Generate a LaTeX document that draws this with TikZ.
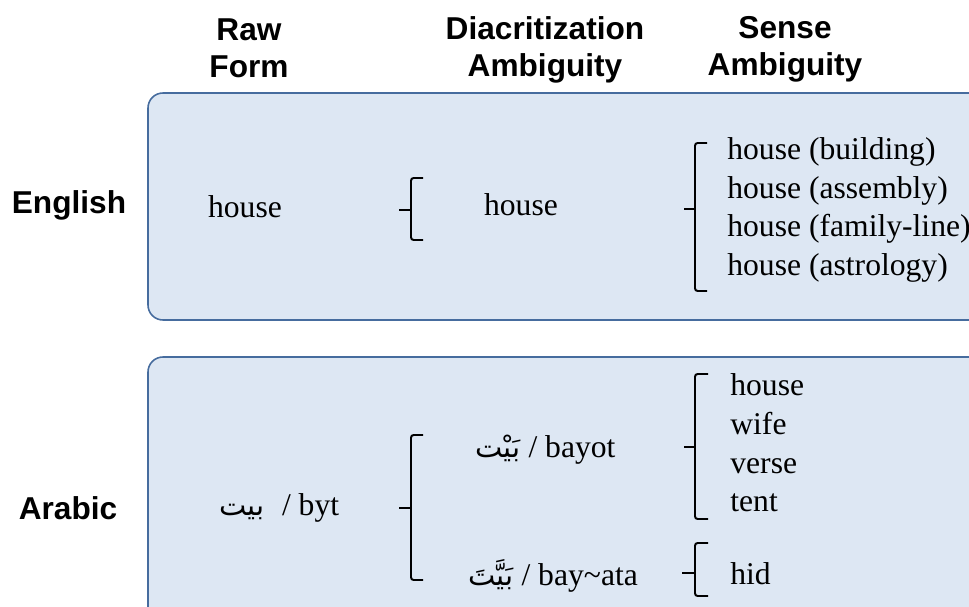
\documentclass[tikz,border=0pt]{standalone}
\usepackage{fontspec}
\setmainfont{Liberation Serif}
\newfontfamily\headfont{Liberation Sans}
\newfontfamily\arabicfont[Script=Arabic]{DejaVu Sans}
\TeXXeTstate=1
\newcommand{\arword}[1]{{\arabicfont\fontsize{16.5}{18}\selectfont\beginR #1\endR}}
\definecolor{panelfill}{RGB}{221,231,243}
\definecolor{paneldraw}{RGB}{70,108,158}
\tikzset{
	panel/.style={draw=paneldraw, fill=panelfill, line width=0.9pt, rounded corners=0.3cm},
	header/.style={font=\headfont\bfseries\fontsize{18}{21}\selectfont, align=center, inner sep=0pt},
	entry/.style={font=\fontsize{18}{22}\selectfont, inner sep=0pt},
	senselist/.style={entry, align=left, anchor=west},
	bracket/.style={line width=1.1pt, rounded corners=1.5pt}
}

\begin{document}
\begin{tikzpicture}[x=0.02cm, y=-0.02cm]
		\useasboundingbox (0,0) rectangle (969,607);
		\clip (0,0) rectangle (969,607);
		\draw[panel] (148,93) rectangle (1010,320);
		\draw[panel] (148,357) rectangle (1010,660);
		
		\node[header] (rawhead) at (249,48) {Raw\\Form};
		\node[header] (diachead) at (545,50) {Diacritization\\Ambiguity};
		\node[header] (sensehead) at (785,49) {Sense\\Ambiguity};
		\node[header] (english) at (69,205) {English};
		\node[header] (arabic) at (68,508) {Arabic};
		
		\node[entry] (enraw) at (245,207) {house};
		\node[entry] (endiac) at (521,205) {house};
		\node[senselist] (ensense) at (727,210) {house (building)\\house (assembly)\\house (family-line)\\house (astrology)};
		\draw[bracket] (423,178) -- (411,178) -- (411,240) -- (423,240) (399,210) -- (411,210);
		\draw[bracket] (707,143) -- (695,143) -- (695,291) -- (707,291) (684,209) -- (695,209);
		
		\node[entry, anchor=west] (arraw) at (219,508) {\arword{بيت}\hspace{0.55em}/ byt};
		\node[entry, anchor=west] (ardiaca) at (475,450) {\arword{بَيْت} / bayot};
		\node[entry, anchor=west] (ardiacb) at (468,576) {\arword{بَيَّتَ} / bay\textasciitilde ata};
		\node[senselist] (arsense) at (730,443) {house\\wife\\verse\\tent};
		\node[entry, anchor=west] (arhid) at (730,574) {hid};
		\draw[bracket] (423,435) -- (411,435) -- (411,580) -- (423,580) (399,508) -- (411,508);
		\draw[bracket] (708,374) -- (695,374) -- (695,519) -- (708,519) (684,447) -- (695,447);
		\draw[bracket] (708,543) -- (695,543) -- (695,596) -- (708,596) (682,573) -- (695,573);
	\end{tikzpicture}
\end{document}
